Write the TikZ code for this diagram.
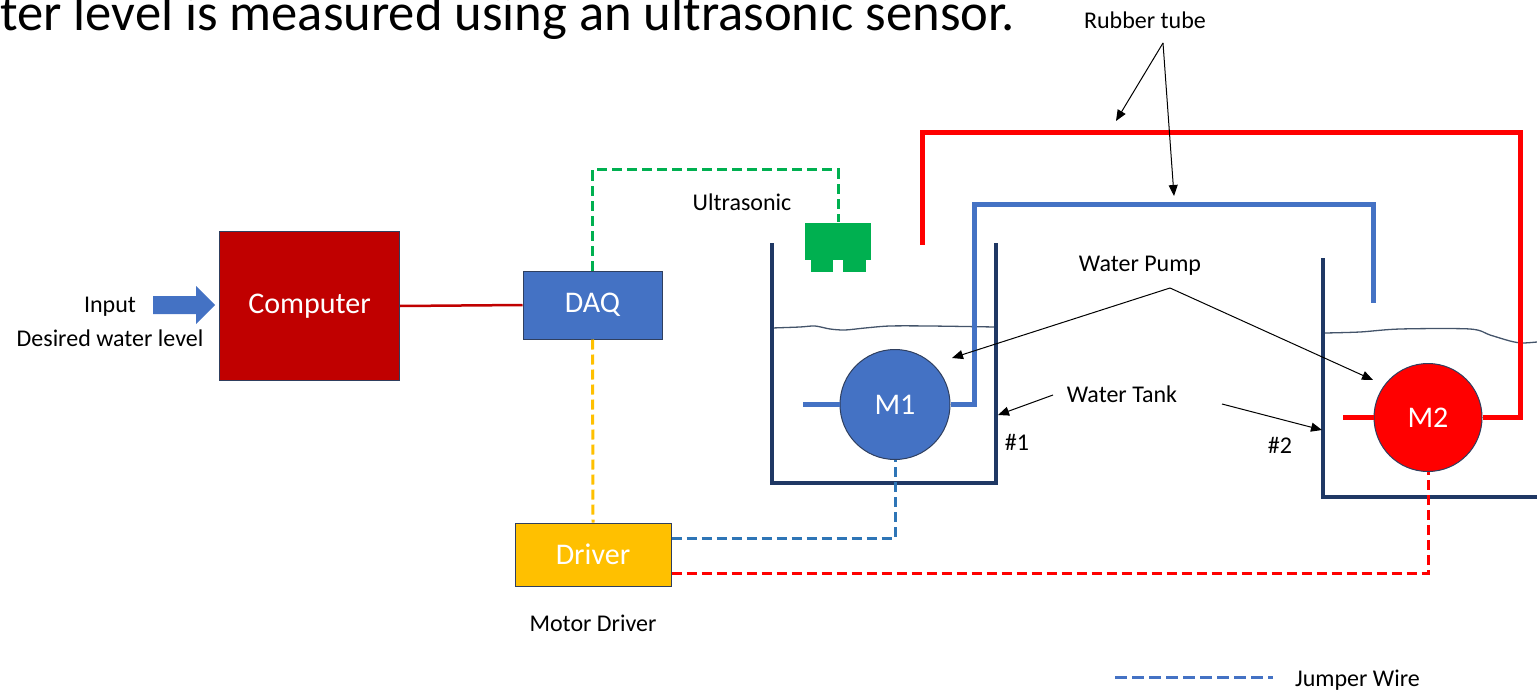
\documentclass[tikz,border=0pt]{standalone}
\usepackage{fontspec}
\setmainfont{Carlito}
\usetikzlibrary{arrows.meta}

\definecolor{compred}{HTML}{C00000}
\definecolor{msblue}{HTML}{4472C4}
\definecolor{wireblue}{HTML}{2E75B6}
\definecolor{msyellow}{HTML}{FFC000}
\definecolor{msgreen}{HTML}{00B050}
\definecolor{tanknavy}{HTML}{1F3864}
\definecolor{edge}{HTML}{2F3F5F}
\definecolor{waterline}{HTML}{44546A}

\newcommand{\lblfont}{\fontsize{24}{28}\selectfont}
\newcommand{\boxfont}{\fontsize{30}{34}\selectfont}
\newcommand{\headfont}{\fontsize{52.6}{60}\selectfont}

\tikzset{
  blockbox/.style={draw=edge, line width=1pt, text=white, font=\boxfont, inner sep=0pt},
  motor/.style={circle, draw=edge, line width=1pt, text=white, font=\boxfont, inner sep=0pt},
  label/.style={font=\lblfont, text=black, inner sep=0pt},
  tankwall/.style={draw=tanknavy, line width=4pt, line join=miter},
  surface/.style={draw=waterline, line width=1.3pt},
  bluetube/.style={draw=msblue, line width=5pt, line join=miter},
  redtube/.style={draw=red, line width=5pt, line join=miter},
  jumper/.style={line width=3pt, dash pattern=on 10pt off 5pt},
  pointer/.style={draw=black, line width=1pt, -{Triangle[length=11pt,width=9pt]}},
}

\begin{document}
\begin{tikzpicture}[x=1pt, y=-1pt]
\useasboundingbox (0,0) rectangle (1537,690);

% heading line
\node[anchor=base east, font=\headfont, inner sep=0pt] (head) at (1015,31)
  {ter level is measured using an ultrasonic sensor.};

% water surfaces
\draw[surface] plot[smooth] coordinates {(772,328) (800,327) (815,326) (830,329) (845,330) (865,328) (890,326) (930,326) (995,327)};
\draw[surface] plot[smooth] coordinates {(1325,333) (1360,332) (1400,329) (1470,329) (1490,335) (1510,341) (1522,343) (1537,342)};

% tanks
\draw[tankwall] (772,243) -- (772,483) -- (996,483) -- (996,243);
\draw[tankwall] (1323,258) -- (1323,497) -- (1545,497);

% blocks
\node[blockbox, fill=compred, minimum width=180pt, minimum height=149pt] (comp) at (309.5,306) {Computer};
\node[blockbox, fill=msblue, minimum width=139pt, minimum height=68pt] (daq) at (592.5,305) {DAQ};
\node[blockbox, fill=msyellow, minimum width=156pt, minimum height=63pt] (drv) at (593,554.5) {Driver};

% pumps
\node[motor, fill=msblue, minimum size=110pt] (m1) at (895,404.5) {M1};
\node[motor, fill=red, minimum size=108pt] (m2) at (1428,417.5) {M2};

% ultrasonic sensor
\node[fill=msgreen, minimum width=66pt, minimum height=37pt, inner sep=0pt] (us) at (838,241) {};
\fill[msgreen] (811,258) rectangle (833,272);
\fill[msgreen] (843,258) rectangle (866,272);

% input arrow
\fill[msblue] (153,296) -- (196,296) -- (196,286) -- (215,305) -- (196,324) -- (196,314) -- (153,314) -- cycle;
\node[label] (inp) at (110,307) {Input};
\node[label] (des) at (110,338) {Desired water level};

% signal wiring
\draw[compred, line width=2.5pt] (comp.east) -- (daq.west);
\draw[msgreen, jumper] (daq.north) -- (daq.north |- 0,170) -| (us.north);
\draw[msyellow, jumper] (daq.south) -- (drv.north);
\draw[wireblue, jumper] (drv.east |- 0,538) -- (m1.south |- 0,538) -- (m1.south);
\draw[red, jumper] (drv.east |- 0,573) -| (m2.south);

% tubes
\coordinate (m1in) at (803,404.5);
\coordinate (btubeEnd) at (1373,303);
\draw[bluetube] (m1in) -- (m1.west);
\draw[bluetube] (m1.east) -| (974,204) -| (btubeEnd);
\coordinate (m2in) at (1343,417.5);
\coordinate (rtubeEnd) at (922,245);
\draw[redtube] (m2in) -- (m2.west);
\draw[redtube] (m2.east) -| (1520,133) -| (rtubeEnd);

% labels
\node[label] (rub) at (1145,20) {Rubber tube};
\node[label] (ult) at (742,202) {Ultrasonic};
\node[label] (pump) at (1140,266) {Water Pump};
\node[label] (tank) at (1122,394) {Water Tank};
\node[label] (t1) at (1017,442) {\#1};
\node[label] (t2) at (1280,445) {\#2};
\node[label] (md) at (593,623) {Motor Driver};

% pointer arrows
\coordinate (rubTip) at (1163,43);
\coordinate (rubA) at (1116,121);
\coordinate (rubB) at (1174,196);
\draw[pointer] (rubTip) -- (rubA);
\draw[pointer] (rubTip) -- (rubB);

\coordinate (pumpTip) at (1170,288);
\coordinate (pumpA) at (952,358);
\coordinate (pumpB) at (1373,380);
\draw[pointer] (pumpTip) -- (pumpA);
\draw[pointer] (pumpTip) -- (pumpB);

\coordinate (tankL) at (1053,395);
\coordinate (tankA) at (998,415);
\coordinate (tankR) at (1222,404);
\coordinate (tankB) at (1322,430);
\draw[pointer] (tankL) -- (tankA);
\draw[pointer] (tankR) -- (tankB);

% legend
\coordinate (legA) at (1115,677);
\coordinate (legB) at (1273,677);
\draw[msblue, line width=3pt, dash pattern=on 12pt off 5pt] (legA) -- (legB);
\node[label, anchor=west] (leg) at (1295,680) {Jumper Wire};

\end{tikzpicture}
\end{document}
